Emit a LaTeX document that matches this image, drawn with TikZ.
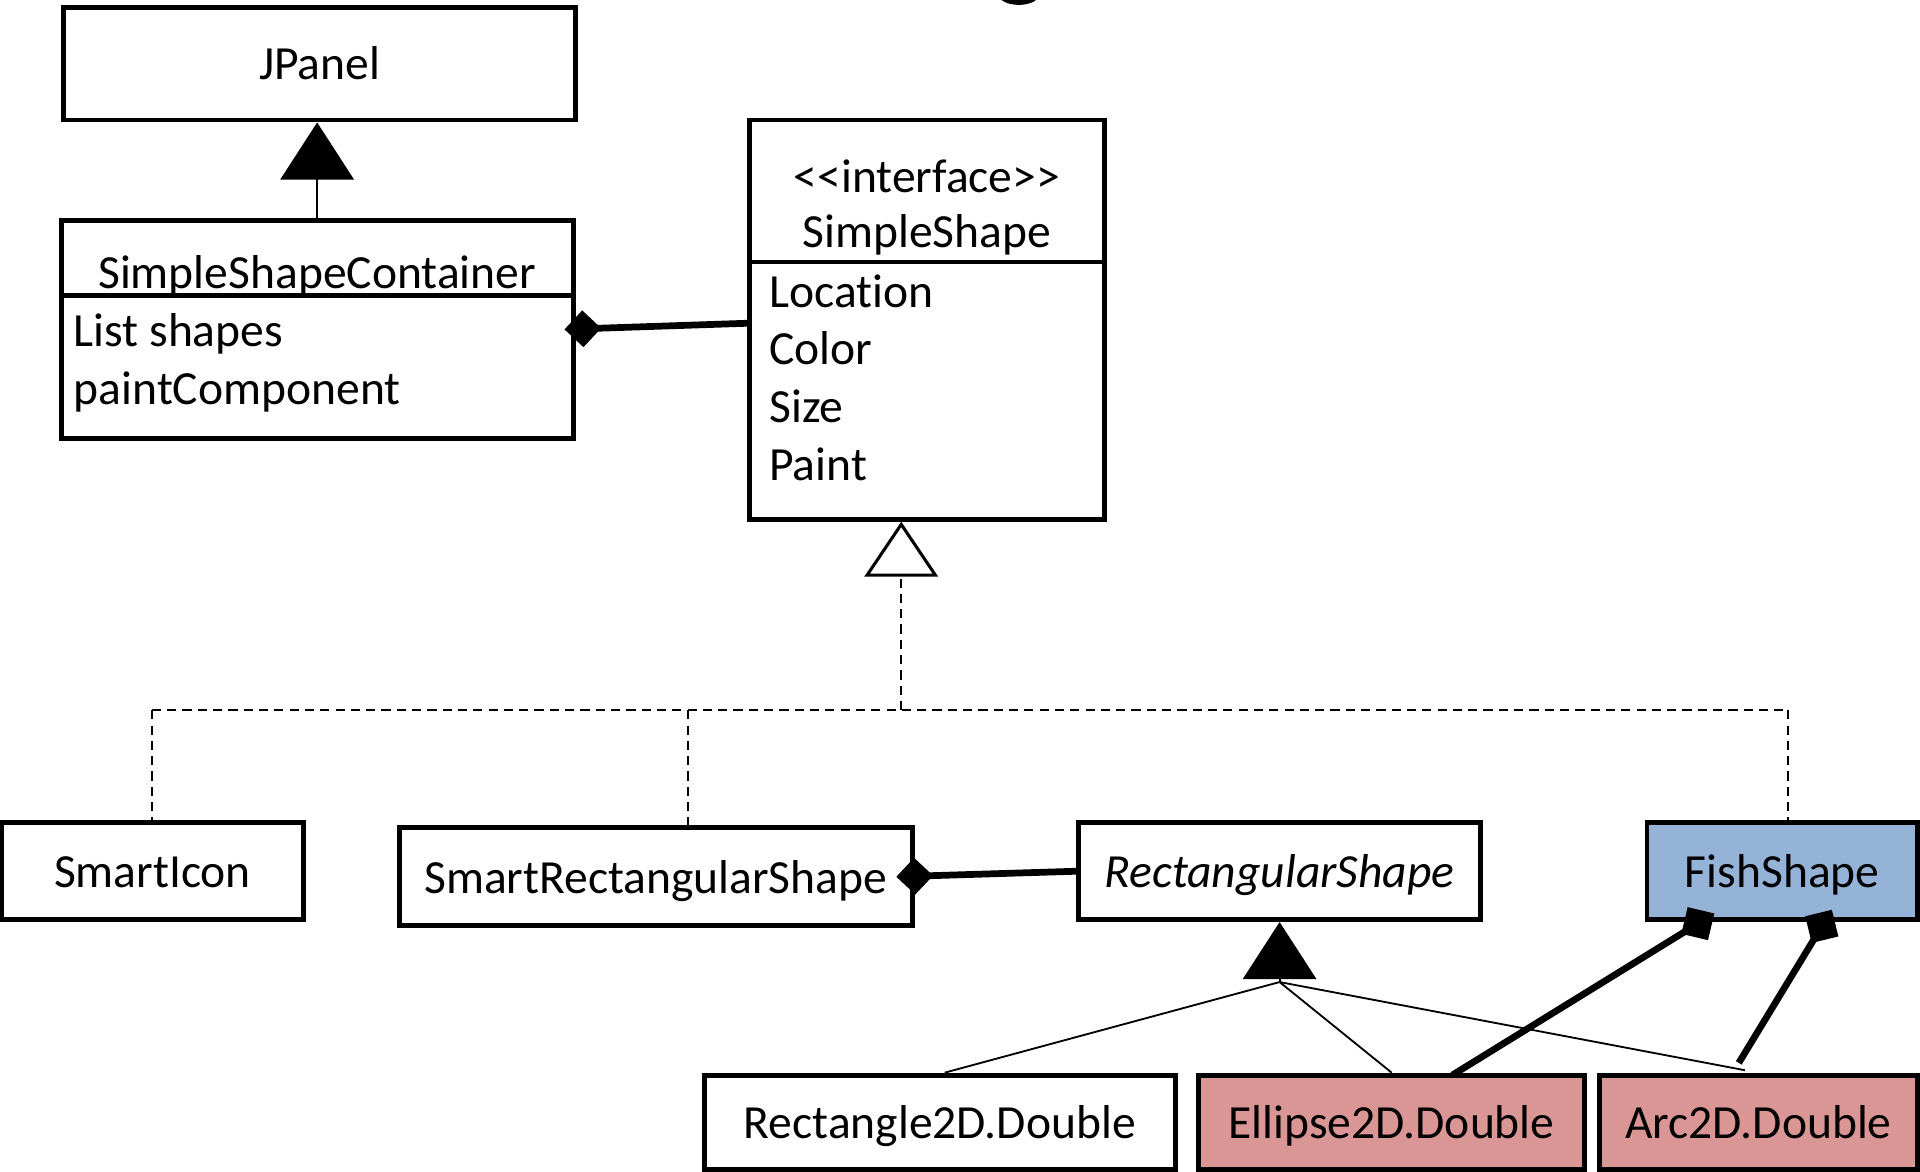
\documentclass[tikz,border=0pt]{standalone}
\usepackage{fontspec}
\setmainfont{Carlito}[Ligatures={NoCommon}]
\usetikzlibrary{arrows.meta,calc}
\definecolor{fishblue}{HTML}{95B3D7}
\definecolor{shapepink}{HTML}{D99694}

\begin{document}
\begin{tikzpicture}[x=0.6pt,y=-0.6pt,
  umlfont/.style={font=\fontsize{23.3}{28}\selectfont},
  box/.style={draw, line width=2.4pt, inner sep=0pt, fill=white, umlfont,
              anchor=center, text height=16pt, text depth=0pt},
  lbl/.style={inner sep=0pt, anchor=base, umlfont},
  attr/.style={lbl, anchor=base west},
  divider/.style={line width=2.4pt},
  thinline/.style={line width=0.9pt},
  gen/.style={thinline, -{Triangle[length=28pt,width=36pt]}},
  realize/.style={line width=0.75pt, dash pattern=on 4.5pt off 3pt},
  realtip/.style={realize, -{Triangle[open,length=27pt,width=36pt,line width=1.5pt]}},
  comp/.style={line width=3.3pt, -{Diamond[length=18pt,width=18pt]}},
  compb/.style={line width=3.3pt, -{Diamond[length=19pt,width=19pt]}},
]
\useasboundingbox (0,0) rectangle (1568,957);

% title fragment at the top edge
\begin{scope}
  \clip (0,0) rectangle (1568,957);
  \fill (832,-5) ellipse [x radius=17, y radius=9];
\end{scope}

% classes
\node[box, minimum width=250.8pt, minimum height=55.2pt] (jpanel) at (261,52) {JPanel};
\node[box, minimum width=250.8pt, minimum height=106.8pt] (ssc) at (259,269) {};
\node[box, minimum width=174pt, minimum height=195.6pt] (ss) at (757,261) {};
\node[box, minimum width=148.2pt, minimum height=47.4pt] (smarticon) at (124.5,711.5) {SmartIcon};
\node[box, minimum width=251.4pt, minimum height=48pt] (srs) at (535.5,716) {SmartRectangularShape};
\node[box, minimum width=196.8pt, minimum height=47.4pt] (rs) at (1045,711.5) {\itshape RectangularShape};
\node[box, fill=fishblue, minimum width=132.6pt, minimum height=47.4pt] (fish) at (1455.5,711.5) {FishShape};
\node[box, minimum width=231pt, minimum height=46.2pt] (r2d) at (767.5,916.5) {Rectangle2D.Double};
\node[box, fill=shapepink, minimum width=189pt, minimum height=46.2pt] (e2d) at (1136.5,916.5) {Ellipse2D.Double};
\node[box, fill=shapepink, minimum width=156pt, minimum height=46.2pt] (a2d) at (1436,916.5) {Arc2D.Double};

% compartments of SimpleShapeContainer
\draw[divider] (ssc.west |- 0,241) -- (ssc.east |- 0,241);
\node[lbl] (ssctitle) at (259,236) {SimpleShapeContainer};
\node[attr] (sscshapes) at (60,283) {List shapes};
\node[attr] (sscpaint) at (60,330) {paintComponent};

% compartments of SimpleShape
\draw[divider] (ss.west |- 0,214) -- (ss.east |- 0,214);
\node[lbl] (ssstereo) at (757,157) {<{}<interface>{}>};
\node[lbl] (sstitle) at (757,202) {SimpleShape};
\node[attr] (ssloc) at (628,251) {Location};
\node[attr] (sscol) at (628,298) {Color};
\node[attr] (sssize) at (628,345) {Size};
\node[attr] (sspaint) at (628,392) {Paint};

% JPanel generalization
\draw[gen] (ssc.north -| 259,0) -- (jpanel.south -| 259,0);

% SimpleShape realization
\coordinate (jn) at (736,580);
\coordinate (d1) at (124,580);
\coordinate (d2) at (562,580);
\coordinate (d3) at (1460,580);
\draw[realtip] (jn) -- (ss.south -| jn);
\draw[realize] (d1) -- (d3);
\draw[realize] (d1) -- (d1 |- smarticon.north);
\draw[realize] (d2) -- (d2 |- srs.north);
\draw[realize] (d3) -- (d3 |- fish.north);

% RectangularShape generalization
\coordinate (gb) at ($(rs.south)+(0,49)$);
\draw[thinline] ($(r2d.north)+(4,0)$) -- (gb);
\draw[thinline] (e2d.north) -- (gb);
\draw[thinline] ($(a2d.north)+(-11,-2)$) -- (gb);
\draw[gen] (gb) -- (rs.south);

% compositions
\draw[comp] ($(ss.west)+(0,3)$) -- ($(ssc.east)+(-9,0)$);
\draw[comp] (rs.west) -- ($(srs.east)+(-15,0)$);
\draw[compb] ($(e2d.north west)+(209,2)$) -- ($(fish.south west)+(57,-7)$);
\draw[compb] ($(a2d.north west)+(116,-8)$) -- ($(fish.south west)+(153,-10)$);
\end{tikzpicture}
\end{document}
